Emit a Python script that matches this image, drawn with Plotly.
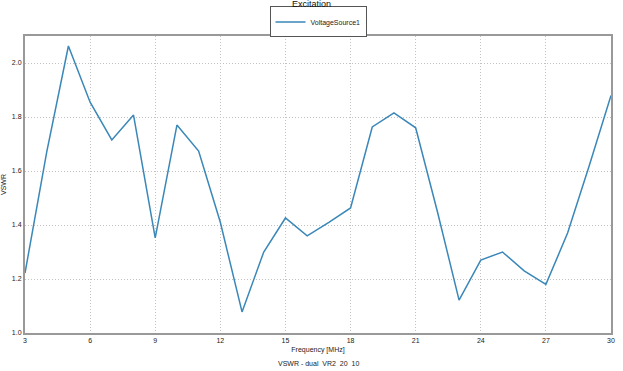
import plotly.graph_objects as go

freq = list(range(3, 31))
vswr = [1.222, 1.67, 2.063, 1.855, 1.715, 1.807, 1.352, 1.77, 1.674, 1.41,
        1.078, 1.30, 1.426, 1.36, 1.41, 1.463, 1.763, 1.815, 1.76, 1.45,
        1.122, 1.27, 1.30, 1.23, 1.18, 1.37, 1.62, 1.88]
xticks = [3, 6, 9, 12, 15, 18, 21, 24, 27, 30]
yticks = [1.0, 1.2, 1.4, 1.6, 1.8, 2.0]

fig = go.Figure()
fig.add_trace(go.Scatter(x=freq, y=vswr, mode="lines", name="VoltageSource1",
                         line=dict(color="#3a87b8", width=1.5)))

FAM = "Liberation Sans, Arial, sans-serif"
fnt = dict(family=FAM, size=7, color="#222")
fig.update_layout(
    width=623, height=371,
    margin=dict(l=25, r=12, t=10, b=38, autoexpand=False),
    paper_bgcolor="white", plot_bgcolor="white",
    font=fnt,
    title=dict(text="Excitation", x=0.5, xanchor="center", y=0.998, yanchor="top",
               pad=dict(t=0, b=0), font=dict(family=FAM, size=9, color="#111")),
    showlegend=True,
    legend=dict(orientation="h", x=0.5, xanchor="center", y=0.963, yanchor="middle",
                bordercolor="#555", borderwidth=1, bgcolor="white", itemwidth=30,
                font=dict(family=FAM, size=7, color="#222")),
    xaxis=dict(range=[3, 30], tickvals=xticks, ticktext=[str(t) for t in xticks],
               showgrid=True, gridcolor="#c2c2c2", griddash="1px,2px", gridwidth=1,
               showline=True, linecolor="#999", linewidth=2, mirror=True,
               ticks="", zeroline=False, automargin=False,
               title=dict(text="Frequency [MHz]", standoff=4, font=fnt)),
    yaxis=dict(range=[1.0, 2.1], domain=[0, 0.9195],
               tickvals=yticks, ticktext=[f"{t:.1f}" for t in yticks],
               showgrid=True, gridcolor="#c2c2c2", griddash="1px,2px", gridwidth=1,
               showline=True, linecolor="#999", linewidth=2, mirror=True,
               ticks="", zeroline=False, automargin=False,
               title=dict(text="VSWR", standoff=6, font=fnt)),
    annotations=[dict(text="VSWR - dual  VR2  20  10", xref="paper", yref="paper",
                      x=0.5, y=-0.111, xanchor="center", yanchor="bottom",
                      showarrow=False, font=fnt)],
)
fig.write_html("out.html", config={"displayModeBar": False},
               post_script="document.body.style.margin='0';document.body.style.padding='0';")
